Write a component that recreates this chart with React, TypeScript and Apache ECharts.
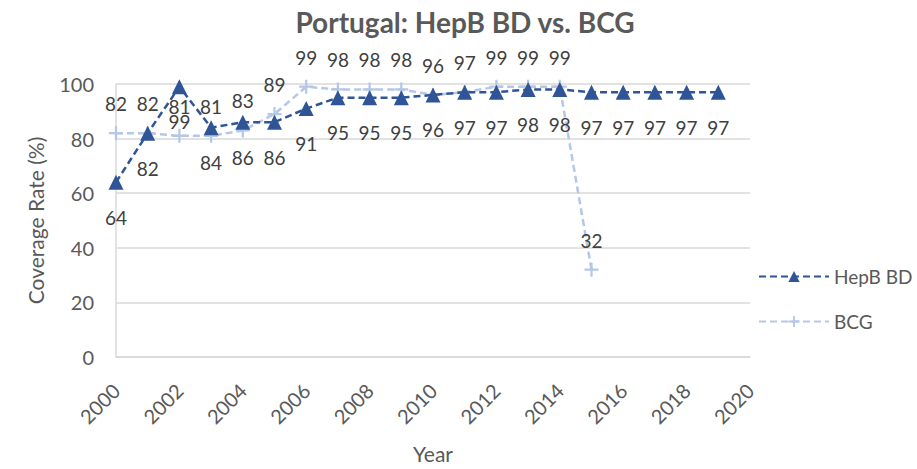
import React, { useEffect, useRef } from "react";
import * as echarts from "echarts";

const years = [2000, 2001, 2002, 2003, 2004, 2005, 2006, 2007, 2008, 2009, 2010, 2011, 2012, 2013, 2014, 2015, 2016, 2017, 2018, 2019];
const hepbBD = [64, 82, 99, 84, 86, 86, 91, 95, 95, 95, 96, 97, 97, 98, 98, 97, 97, 97, 97, 97];
const bcgYears = [2000, 2001, 2002, 2003, 2004, 2005, 2006, 2007, 2008, 2009, 2010, 2011, 2012, 2013, 2014, 2015];
const bcg = [82, 82, 81, 81, 83, 89, 99, 98, 98, 98, 96, 97, 99, 99, 99, 32];

const FONT = "Lato, 'Liberation Sans', sans-serif";
const TEXT = "#595959";
const PLUS = "path://M4.2,0 H5.8 V4.2 H10 V5.8 H5.8 V10 H4.2 V5.8 H0 V4.2 H4.2 Z";

export default function App() {
  const ref = useRef<HTMLDivElement>(null);
  useEffect(() => {
    if (!ref.current) return;
    const chart = echarts.init(ref.current, null, { renderer: "svg" });
    chart.setOption({
      animation: false,
      backgroundColor: "#ffffff",
      textStyle: { fontFamily: FONT },
      title: {
        text: "Portugal: HepB BD vs. BCG",
        left: 460,
        textAlign: "center",
        top: 3,
        textStyle: { fontFamily: FONT, fontSize: 28, fontWeight: "bold", color: TEXT },
      },
      grid: { left: 116, right: 167, top: 84, bottom: 112, containLabel: false },
      legend: {
        orient: "vertical",
        left: 753,
        top: 262,
        itemWidth: 70,
        itemHeight: 14,
        itemGap: 26,
        textStyle: { fontFamily: FONT, fontSize: 19, color: TEXT },
        data: ["HepB BD", "BCG"],
      },
      xAxis: {
        type: "value",
        min: 2000,
        max: 2020,
        interval: 2,
        name: "Year",
        nameLocation: "middle",
        nameGap: 86,
        nameTextStyle: { fontFamily: FONT, fontSize: 21, color: TEXT },
        axisLine: { show: true, lineStyle: { color: "#D9D9D9", width: 1.5 } },
        axisTick: { show: false },
        splitLine: { show: false },
        axisLabel: {
          rotate: 45,
          fontFamily: FONT,
          fontSize: 20,
          color: TEXT,
          margin: 30,
          formatter: (v: number) => String(v),
        },
      },
      yAxis: {
        type: "value",
        min: 0,
        max: 100,
        interval: 20,
        name: "Coverage Rate (%)",
        nameLocation: "middle",
        nameGap: 70,
        nameTextStyle: { fontFamily: FONT, fontSize: 21, color: TEXT },
        axisLine: { show: true, lineStyle: { color: "#D9D9D9", width: 1.5 } },
        axisTick: { show: false },
        splitLine: { show: true, lineStyle: { color: "#D9D9D9", width: 1.5 } },
        axisLabel: { fontFamily: FONT, fontSize: 20, color: TEXT, margin: 22 },
      },
      series: [
        {
          name: "HepB BD",
          type: "line",
          data: years.map((y, i) => [y, hepbBD[i]]),
          symbol: "triangle",
          symbolSize: 15,
          lineStyle: { color: "#2F5597", width: 2.5, type: [7, 4] },
          itemStyle: { color: "#2F5597" },
          label: {
            show: true,
            position: "bottom",
            distance: 18,
            fontFamily: FONT,
            fontSize: 19,
            color: "#404040",
            formatter: (p: any) => String(p.value[1]),
          },
          z: 3,
        },
        {
          name: "BCG",
          type: "line",
          data: bcgYears.map((y, i) => [y, bcg[i]]),
          symbol: PLUS,
          symbolSize: 14,
          lineStyle: { color: "#B4C7E7", width: 2.5, type: [7, 4] },
          itemStyle: { color: "#B4C7E7" },
          label: {
            show: true,
            position: "top",
            distance: 13,
            fontFamily: FONT,
            fontSize: 19,
            color: "#404040",
            formatter: (p: any) => String(p.value[1]),
          },
          z: 2,
        },
      ],
    });
    return () => chart.dispose();
  }, []);
  return (
    <div
      ref={ref}
      style={{ position: "absolute", left: 0, top: 0, width: 917, height: 469 }}
    />
  );
}
